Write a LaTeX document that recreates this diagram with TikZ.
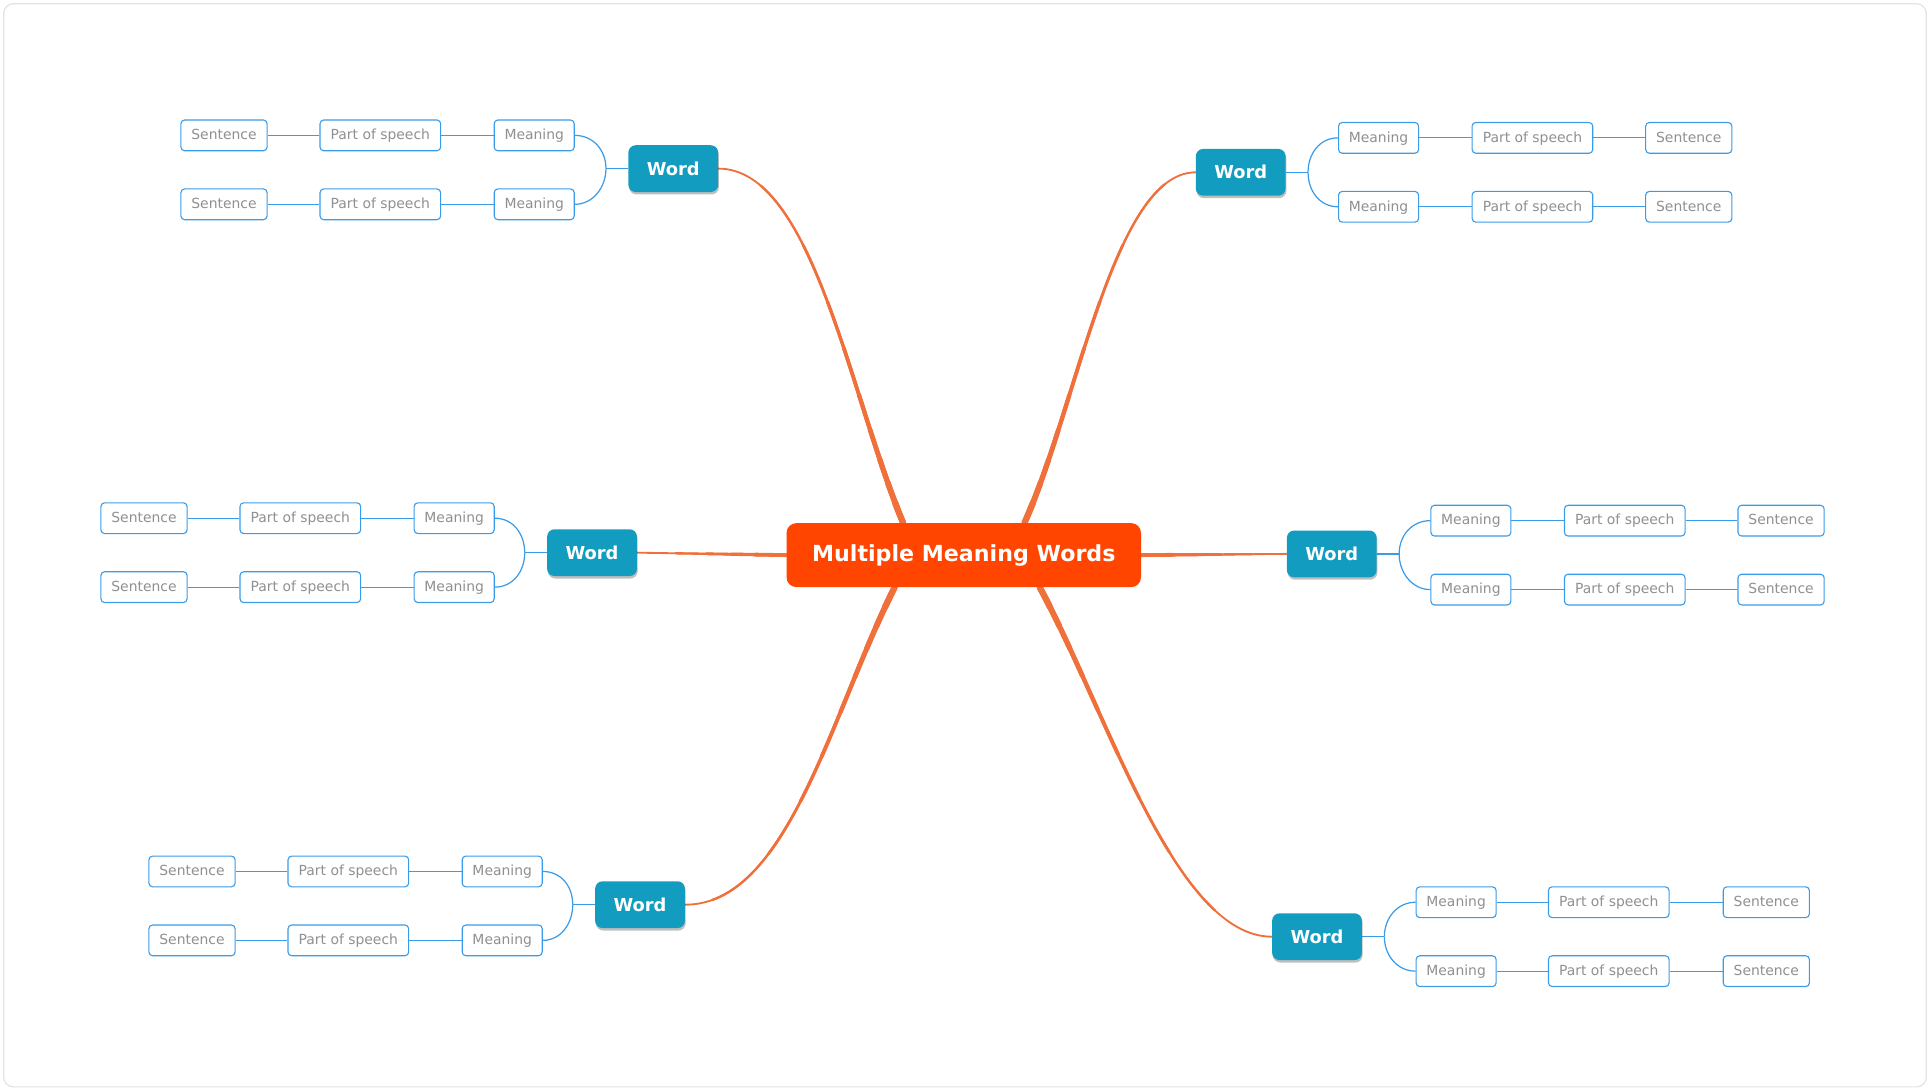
\documentclass[tikz,border=0pt]{standalone}
\usepackage{fontspec}
\setmainfont{DejaVu Sans}
\usetikzlibrary{calc,shadows,backgrounds}
\definecolor{rootc}{HTML}{FF4500}
\definecolor{curvec}{HTML}{F0703C}
\definecolor{wordc}{HTML}{129CBF}
\definecolor{blinec}{HTML}{3A9BE8}
\definecolor{btextc}{HTML}{909090}
\definecolor{framec}{HTML}{E3E3E3}
\newcommand\taperdraw[1]{%
  \foreach \lw/\len in {1.5/3000,1.9/300,2.3/240,2.7/190,3.1/150,3.5/110,3.9/80,4.3/55,4.7/35,5.1/18}{%
    \draw[curvec, line width=\lw pt, line cap=round, dash pattern=on \len pt off 4000pt] #1;}}
\newcommand\tapershort[1]{%
  \foreach \lw/\len in {1.5/3000,1.9/90,2.3/65,2.7/45,3.1/25}{%
    \draw[curvec, line width=\lw pt, line cap=round, dash pattern=on \len pt off 4000pt] #1;}}
\begin{document}
\begin{tikzpicture}[x=1pt,y=-1pt,
  leafbox/.style={draw=blinec, line width=0.9pt, fill=white, rounded corners=3pt, text=btextc,
    font=\fontsize{11.3}{13}\selectfont, minimum height=25pt, inner sep=0pt,
    text height=8.3pt, text depth=1.3pt},
  sbox/.style={leafbox, minimum width=70pt},
  pbox/.style={leafbox, minimum width=98pt},
  mbox/.style={leafbox, minimum width=65pt},
  wbox/.style={fill=wordc, rounded corners=6pt, text=white, font=\bfseries\fontsize{14.5}{16}\selectfont,
    minimum width=73pt, minimum height=38pt, inner sep=0pt,
    drop shadow={shadow xshift=0.6pt, shadow yshift=-2pt, opacity=0.25, fill=black}},
  rootbox/.style={fill=rootc, rounded corners=8pt, text=white, font=\bfseries\fontsize{18}{20}\selectfont,
    minimum width=288pt, minimum height=52pt, inner sep=0pt},
  bl/.style={draw=blinec, line width=1pt}]
\useasboundingbox (0,0) rectangle (1568,885);

% central
\node[rootbox] (c) at (783,451) {Multiple Meaning Words};

% word nodes
\node[wbox] (w1) at (547,137) {Word};
\node[wbox] (w2) at (1008,140) {Word};
\node[wbox] (w3) at (481,449) {Word};
\node[wbox] (w4) at (1082,450) {Word};
\node[wbox] (w5) at (520,735) {Word};
\node[wbox] (w6) at (1070,761) {Word};

% group 1 (top left)
\node[mbox] (m1a) at (434,110) {Meaning};
\node[pbox] (p1a) at (309,110) {Part of speech};
\node[sbox] (s1a) at (182,110) {Sentence};
\node[mbox] (m1b) at (434,166) {Meaning};
\node[pbox] (p1b) at (309,166) {Part of speech};
\node[sbox] (s1b) at (182,166) {Sentence};
% group 2 (top right)
\node[mbox] (m2a) at (1120,112) {Meaning};
\node[pbox] (p2a) at (1245,112) {Part of speech};
\node[sbox] (s2a) at (1372,112) {Sentence};
\node[mbox] (m2b) at (1120,168) {Meaning};
\node[pbox] (p2b) at (1245,168) {Part of speech};
\node[sbox] (s2b) at (1372,168) {Sentence};
% group 3 (middle left)
\node[mbox] (m3a) at (369,421) {Meaning};
\node[pbox] (p3a) at (244,421) {Part of speech};
\node[sbox] (s3a) at (117,421) {Sentence};
\node[mbox] (m3b) at (369,477) {Meaning};
\node[pbox] (p3b) at (244,477) {Part of speech};
\node[sbox] (s3b) at (117,477) {Sentence};
% group 4 (middle right)
\node[mbox] (m4a) at (1195,423) {Meaning};
\node[pbox] (p4a) at (1320,423) {Part of speech};
\node[sbox] (s4a) at (1447,423) {Sentence};
\node[mbox] (m4b) at (1195,479) {Meaning};
\node[pbox] (p4b) at (1320,479) {Part of speech};
\node[sbox] (s4b) at (1447,479) {Sentence};
% group 5 (bottom left)
\node[mbox] (m5a) at (408,708) {Meaning};
\node[pbox] (p5a) at (283,708) {Part of speech};
\node[sbox] (s5a) at (156,708) {Sentence};
\node[mbox] (m5b) at (408,764) {Meaning};
\node[pbox] (p5b) at (283,764) {Part of speech};
\node[sbox] (s5b) at (156,764) {Sentence};
% group 6 (bottom right)
\node[mbox] (m6a) at (1183,733) {Meaning};
\node[pbox] (p6a) at (1307,733) {Part of speech};
\node[sbox] (s6a) at (1435,733) {Sentence};
\node[mbox] (m6b) at (1183,789) {Meaning};
\node[pbox] (p6b) at (1307,789) {Part of speech};
\node[sbox] (s6b) at (1435,789) {Sentence};

\begin{scope}[on background layer]
\draw[framec, line width=1pt, rounded corners=8pt] (3,3) rectangle (1565,883);

% orange main branches
\taperdraw{(c.152) .. controls (690,320) and (660,137) .. (w1.east)}
\taperdraw{(c.28) .. controls (875,330) and (905,140) .. (w2.west)}
\tapershort{(c.west) -- (w3.east)}
\tapershort{(c.east) -- (w4.west)}
\taperdraw{(c.205) .. controls (675,580) and (640,735) .. (w5.east)}
\taperdraw{(c.337) .. controls (900,580) and (955,761) .. (w6.west)}

% blue: left groups
\foreach \g in {1,3,5}{
  \draw[bl] (w\g.west) -- ++(-18,0) coordinate (j\g);
  \draw[bl] (j\g) .. controls ($(j\g)+(0,-15)$) and ($(m\g a.east)+(15,0)$) .. (m\g a.east);
  \draw[bl] (j\g) .. controls ($(j\g)+(0,15)$) and ($(m\g b.east)+(15,0)$) .. (m\g b.east);
  \draw[bl] (m\g a.west) -- (p\g a.east);
  \draw[bl] (p\g a.west) -- (s\g a.east);
  \draw[bl] (m\g b.west) -- (p\g b.east);
  \draw[bl] (p\g b.west) -- (s\g b.east);
}
% blue: right groups
\foreach \g in {2,4,6}{
  \draw[bl] (w\g.east) -- ++(18,0) coordinate (j\g);
  \draw[bl] (j\g) .. controls ($(j\g)+(0,-15)$) and ($(m\g a.west)+(-15,0)$) .. (m\g a.west);
  \draw[bl] (j\g) .. controls ($(j\g)+(0,15)$) and ($(m\g b.west)+(-15,0)$) .. (m\g b.west);
  \draw[bl] (m\g a.east) -- (p\g a.west);
  \draw[bl] (p\g a.east) -- (s\g a.west);
  \draw[bl] (m\g b.east) -- (p\g b.west);
  \draw[bl] (p\g b.east) -- (s\g b.west);
}
\end{scope}
\end{tikzpicture}
\end{document}
